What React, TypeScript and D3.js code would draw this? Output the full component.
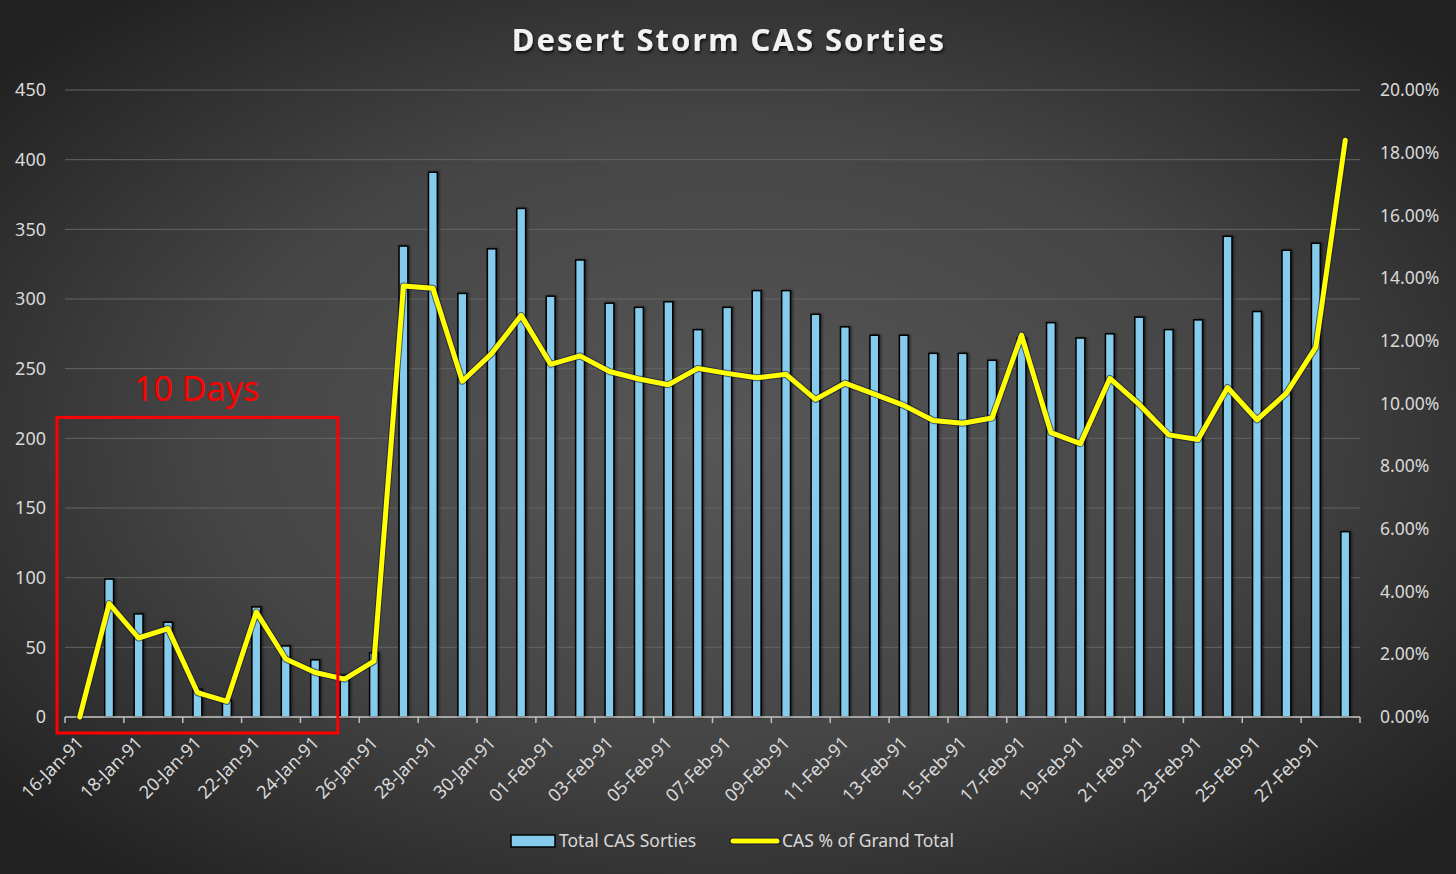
import { useEffect } from 'react';
import * as d3 from 'd3';

// categories (one per day)
const days = [
  '16-Jan-91', '17-Jan-91', '18-Jan-91', '19-Jan-91', '20-Jan-91', '21-Jan-91', '22-Jan-91', '23-Jan-91',
  '24-Jan-91', '25-Jan-91', '26-Jan-91', '27-Jan-91', '28-Jan-91', '29-Jan-91', '30-Jan-91', '31-Jan-91',
  '01-Feb-91', '02-Feb-91', '03-Feb-91', '04-Feb-91', '05-Feb-91', '06-Feb-91', '07-Feb-91', '08-Feb-91',
  '09-Feb-91', '10-Feb-91', '11-Feb-91', '12-Feb-91', '13-Feb-91', '14-Feb-91', '15-Feb-91', '16-Feb-91',
  '17-Feb-91', '18-Feb-91', '19-Feb-91', '20-Feb-91', '21-Feb-91', '22-Feb-91', '23-Feb-91', '24-Feb-91',
  '25-Feb-91', '26-Feb-91', '27-Feb-91', '28-Feb-91',
];

// Total CAS Sorties (left axis)
const sorties = [
  0, 99, 74, 68, 20, 12, 79, 51, 41, 30, 46, 338, 391, 304, 336, 365,
  302, 328, 297, 294, 298, 278, 294, 306, 306, 289, 280, 274, 274, 261, 261, 256,
  272, 283, 272, 275, 287, 278, 285, 345, 291, 335, 340, 133,
];

// CAS % of Grand Total (right axis)
const casPct = [
  0.0, 3.62, 2.52, 2.82, 0.78, 0.5, 3.35, 1.85, 1.42, 1.21, 1.78, 13.75, 13.68, 10.71, 11.6, 12.81,
  11.25, 11.52, 11.02, 10.78, 10.6, 11.12, 10.96, 10.82, 10.93, 10.13, 10.65, 10.3, 9.94, 9.46, 9.37, 9.54,
  12.18, 9.07, 8.72, 10.8, 9.97, 9.0, 8.85, 10.51, 9.48, 10.33, 11.8, 18.4,
];

const leftTicks = [0, 50, 100, 150, 200, 250, 300, 350, 400, 450];
const rightTicks = [0, 2, 4, 6, 8, 10, 12, 14, 16, 18, 20];

const width = 1456;
const height = 874;
const margin = { top: 90, right: 96, bottom: 157, left: 65 };
const font = '"Noto Sans", "Open Sans", sans-serif';
const labelColor = '#d9d9d9';

const App = () => {
  useEffect(() => {
    document.body.style.margin = '0';
    document.body.style.background = '#2a2a2a';
  }, []);

  const x = d3.scaleBand<string>().domain(days).range([margin.left, width - margin.right]).padding(0);
  const yLeft = d3.scaleLinear().domain([0, 450]).range([height - margin.bottom, margin.top]);
  const yRight = d3.scaleLinear().domain([0, 20]).range([height - margin.bottom, margin.top]);
  const bw = x.bandwidth();
  const barW = bw * 0.3;
  const cx = (d: string) => (x(d) as number) + bw / 2;
  const baseY = yLeft(0);

  const line = d3
    .line<number>()
    .x((_, i) => cx(days[i]))
    .y(v => yRight(v))
    .curve(d3.curveLinear);
  const linePath = line(casPct) as string;

  // annotation box around the first ten days
  const boxX0 = (x(days[0]) as number) - 8;
  const boxX1 = (x(days[9]) as number) + bw * 0.27;
  const boxY0 = yLeft(215);
  const boxY1 = baseY + 16;

  return (
    <svg width={width} height={height} viewBox={`0 0 ${width} ${height}`} style={{ display: 'block' }} fontFamily={font}>
      <defs>
        <radialGradient id="bg" cx="50%" cy="50%" r="65%">
          <stop offset="0" stopColor="#575757" />
          <stop offset="0.55" stopColor="#454545" />
          <stop offset="1" stopColor="#222222" />
        </radialGradient>
        <filter id="titleShadow" x="-10%" y="-30%" width="120%" height="160%">
          <feDropShadow dx="1" dy="2" stdDeviation="1.5" floodColor="#000" floodOpacity="0.8" />
        </filter>
        <filter id="barShadow" x="-50%" y="-5%" width="200%" height="110%">
          <feDropShadow dx="1.5" dy="0" stdDeviation="1" floodColor="#000" floodOpacity="0.5" />
        </filter>
      </defs>
      <rect x={0} y={0} width={width} height={height} fill="url(#bg)" />

      <text
        x={width / 2 + 1}
        y={51}
        textAnchor="middle"
        fill="#f2f2f2"
        fontSize={31}
        fontWeight={700}
        letterSpacing={2}
        filter="url(#titleShadow)"
      >
        Desert Storm CAS Sorties
      </text>

      {/* gridlines */}
      {leftTicks.map(t => (
        <line key={`g${t}`} x1={margin.left} x2={width - margin.right} y1={yLeft(t)} y2={yLeft(t)} stroke="#646464" strokeWidth={1} />
      ))}

      {/* left axis labels */}
      {leftTicks.map(t => (
        <text key={`l${t}`} x={46} y={yLeft(t)} dy="0.35em" textAnchor="end" fill={labelColor} fontSize={18}>
          {t}
        </text>
      ))}

      {/* right axis labels */}
      {rightTicks.map(t => (
        <text key={`r${t}`} x={1380} y={yRight(t)} dy="0.35em" textAnchor="start" fill={labelColor} fontSize={17.5}>
          {`${t.toFixed(2)}%`}
        </text>
      ))}

      {/* bars */}
      <g filter="url(#barShadow)">
        {days.map((d, i) => (
          <rect
            key={d}
            x={cx(d) - barW / 2}
            y={yLeft(sorties[i])}
            width={barW}
            height={baseY - yLeft(sorties[i])}
            fill="#84cbec"
            stroke="#000"
            strokeWidth={1.5}
          />
        ))}
      </g>

      {/* category axis */}
      <line x1={margin.left} x2={width - margin.right} y1={baseY} y2={baseY} stroke="#bfbfbf" strokeWidth={1.5} />
      {days
        .filter((_, i) => i % 2 === 0)
        .map(d => (
          <line key={`t${d}`} x1={x(d) as number} x2={x(d) as number} y1={baseY} y2={baseY + 6} stroke="#bfbfbf" strokeWidth={1.5} />
        ))}
      <line x1={width - margin.right} x2={width - margin.right} y1={baseY} y2={baseY + 6} stroke="#bfbfbf" strokeWidth={1.5} />
      {days
        .filter((_, i) => i % 2 === 0)
        .map(d => (
          <text
            key={`x${d}`}
            transform={`translate(${cx(d) + 5},${baseY + 27}) rotate(-45)`}
            textAnchor="end"
            fill={labelColor}
            fontSize={18}
          >
            {d}
          </text>
        ))}

      {/* line series */}
      <path d={linePath} fill="none" stroke="#10103a" strokeOpacity={0.6} strokeWidth={7} strokeLinejoin="round" strokeLinecap="round" />
      <path d={linePath} fill="none" stroke="#ffff00" strokeWidth={5} strokeLinejoin="round" strokeLinecap="round" />

      {/* annotation */}
      <rect x={boxX0} y={boxY0} width={boxX1 - boxX0} height={boxY1 - boxY0} fill="none" stroke="#ff0000" strokeWidth={3} />
      <text x={134} y={401} fill="#ff0000" fontSize={34}>
        10 Days
      </text>

      {/* legend */}
      <rect x={511} y={835} width={44} height={12} fill="#84cbec" stroke="#000" strokeWidth={1.5} />
      <text x={559} y={847} fill={labelColor} fontSize={17.5}>
        Total CAS Sorties
      </text>
      <line x1={733} x2={777} y1={841} y2={841} stroke="#10103a" strokeWidth={7} strokeLinecap="round" />
      <line x1={733} x2={777} y1={841} y2={841} stroke="#ffff00" strokeWidth={5} strokeLinecap="round" />
      <text x={782} y={847} fill={labelColor} fontSize={17.5}>
        CAS % of Grand Total
      </text>
    </svg>
  );
};

export default App;
